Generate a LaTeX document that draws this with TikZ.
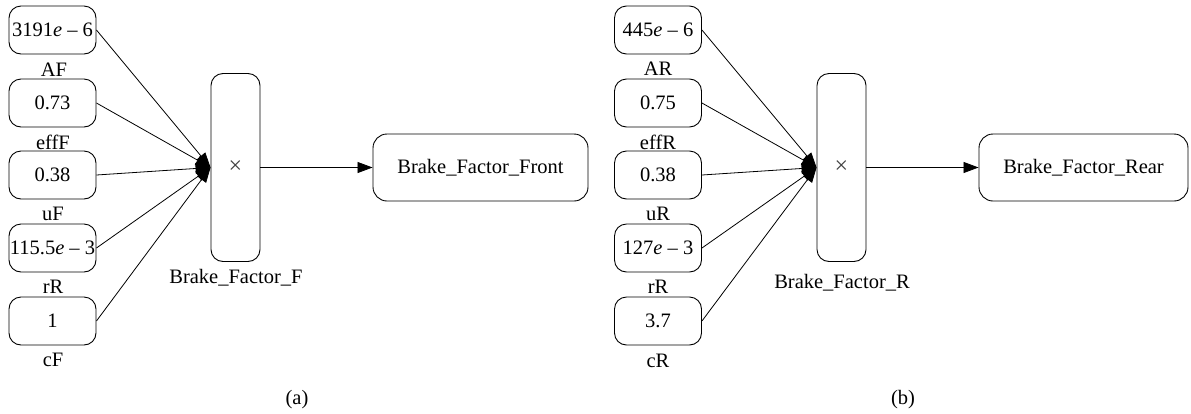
\documentclass[tikz,border=0pt]{standalone}
\usepackage{fontspec}
\setmainfont{Liberation Serif}
\usetikzlibrary{arrows.meta}
\newcommand{\ee}[2]{#1\textit{e}\hspace{0.25em}–\hspace{0.25em}#2}
\begin{document}
\begin{tikzpicture}[x=1pt,y=-1pt,
  txt/.style={font=\fontsize{20.5}{24}\selectfont},
  inbox/.style={txt,draw,line width=0.9pt,rounded corners=12pt,minimum width=87pt,minimum height=48pt,inner sep=0pt},
  mulbox/.style={draw,line width=0.9pt,rounded corners=12pt,minimum width=49pt,minimum height=188pt,inner sep=0pt,font=\fontsize{24}{26}\selectfont,text=black!75},
  outbox/.style={txt,draw,line width=0.9pt,rounded corners=14pt,minimum height=67pt,inner sep=0pt},
  lbl/.style={txt,inner sep=0pt},
  conn/.style={line width=0.8pt,-{Triangle[length=15pt,width=11pt]}}]
\useasboundingbox (0,0) rectangle (1191,413);
% panel (a)
\node[inbox] (a1) at (52.5,30) {\ee{3191}{6}};
\node[inbox] (a2) at (52.5,103) {0.73};
\node[inbox] (a3) at (52.5,175) {0.38};
\node[inbox] (a4) at (52.5,248) {\ee{115.5}{3}};
\node[inbox] (a5) at (52.5,321) {1};
\node[lbl] (la1) at (54,70) {AF};
\node[lbl] (la2) at (53,142) {effF};
\node[lbl] (la3) at (53,214) {uF};
\node[lbl] (la4) at (53,287) {rR};
\node[lbl] (la5) at (53,360) {cF};
\node[mulbox] (ma) at (235.5,167.5) {×};
\node[lbl] (lma) at (236,278) {Brake\_Factor\_F};
\node[outbox,minimum width=215pt] (oa) at (480.5,167.5) {Brake\_Factor\_Front};
\foreach \i in {1,...,5} \draw[conn] (a\i.east) -- (ma.west);
\draw[conn] (ma.east) -- (oa.west);
\node[lbl] (capa) at (297,400) {(a)};
% panel (b)
\node[inbox] (b1) at (658,30) {\ee{445}{6}};
\node[inbox] (b2) at (658,103) {0.75};
\node[inbox] (b3) at (658,175) {0.38};
\node[inbox] (b4) at (658,248) {\ee{127}{3}};
\node[inbox] (b5) at (658,321) {3.7};
\node[lbl] (lb1) at (658,69) {AR};
\node[lbl] (lb2) at (658,142) {effR};
\node[lbl] (lb3) at (658,214) {uR};
\node[lbl] (lb4) at (658,287) {rR};
\node[lbl] (lb5) at (658,361) {cR};
\node[mulbox] (mb) at (841.5,167.5) {×};
\node[lbl] (lmb) at (842,283) {Brake\_Factor\_R};
\node[outbox,minimum width=209pt] (ob) at (1083.5,167.5) {Brake\_Factor\_Rear};
\foreach \i in {1,...,5} \draw[conn] (b\i.east) -- (mb.west);
\draw[conn] (mb.east) -- (ob.west);
\node[lbl] (capb) at (903,400) {(b)};
\end{tikzpicture}
\end{document}
